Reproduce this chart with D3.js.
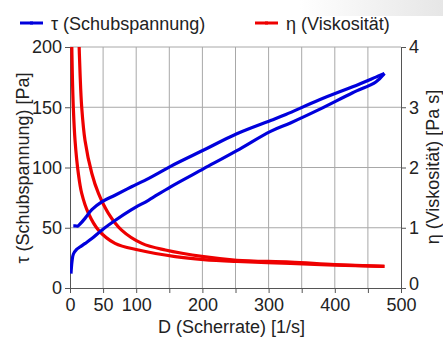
<!DOCTYPE html>
<html>
<head>
<meta charset="utf-8">
<script src="https://cdn.jsdelivr.net/npm/d3@7"></script>
<style>
  body { margin: 0; background: #fff; }
  svg { display: block; font-family: "Liberation Sans", Arial, sans-serif; }
  .axis path, .axis line { stroke: #555; }
  .axis text { font-size: 18px; fill: #222; }
  .grid line { stroke: #a8a8a8; }
</style>
</head>
<body>
<div id="chart"></div>
<script>
// Schubspannung, Hochlauf (unterer Ast)
const shearUp = [1.5, 3, 5, 10, 15, 23, 33, 48, 68, 93, 119, 152, 202, 252, 303, 333, 376, 427, 462, 475];
const tauUp   = [12, 22, 28, 32, 34, 37, 41, 48, 56, 65, 73, 84, 99, 114, 130, 137, 148, 162, 171, 178];

// Schubspannung, Rücklauf (oberer Ast)
const shearDown = [475, 462, 427, 376, 326, 303, 252, 202, 152, 119, 93, 68, 48, 33, 23, 15, 12, 8, 5];
const tauDown   = [178, 175, 167, 156, 144, 139, 128, 114.5, 101, 91, 84, 77, 71.5, 65, 58, 53, 51.5, 51.5, 51.5];

// Viskosität, Hochlauf
const etaShearUp = [2.3, 3.5, 5, 7.6, 12.6, 17.7, 27.8, 43, 68, 103.5, 159, 202, 252, 333, 400, 475];
const etaUp      = [4.3, 3.56, 3.0, 2.45, 1.9, 1.57, 1.24, 0.96, 0.74, 0.63, 0.52, 0.47, 0.44, 0.41, 0.38, 0.36];

// Viskosität, Rücklauf
const etaShearDown = [475, 400, 333, 252, 202, 144, 108.6, 78, 58, 43, 33, 22.7, 17.7, 15.2, 13];
const etaDown      = [0.36, 0.39, 0.43, 0.46, 0.52, 0.63, 0.74, 0.96, 1.24, 1.57, 1.9, 2.45, 3.0, 3.56, 4.3];

const xTicks = [0, 50, 100, 200, 300, 400, 500];
const xGrid = [50, 100, 150, 200, 250, 300, 350, 400, 450];
const tauTicks = [0, 50, 100, 150, 200];
const etaTicks = [0, 1, 2, 3, 4];

const W = 443, H = 340;
const margin = {top: 47, right: 42, bottom: 52, left: 70};
const width = W - margin.left - margin.right,
      height = H - margin.top - margin.bottom;

const blue = '#0000dc', red = '#ee0000';

const svg = d3.select('#chart').append('svg')
    .attr('width', W)
    .attr('height', H);

// leichter Schatten oben rechts
const grad = svg.append('defs').append('linearGradient')
    .attr('id', 'fade').attr('x1', 0).attr('x2', 1);
grad.append('stop').attr('offset', 0).attr('stop-color', '#fff');
grad.append('stop').attr('offset', 1).attr('stop-color', '#e6e6e6');
svg.append('rect').attr('x', 300).attr('y', 0).attr('width', 143).attr('height', 16)
    .attr('fill', 'url(#fade)');

svg.select('defs').append('clipPath').attr('id', 'clip')
  .append('rect').attr('width', width).attr('height', height);

const g = svg.append('g')
    .attr('transform', `translate(${margin.left},${margin.top})`);

const x = d3.scaleLinear().domain([0, 500]).range([0, width]);
const yTau = d3.scaleLinear().domain([0, 200]).range([height, 0]);
const yEta = d3.scaleLinear().domain([0, 4]).range([height, 0]);

// Gitter
g.append('g').attr('class', 'grid')
  .selectAll('line').data(xGrid).enter().append('line')
    .attr('x1', d => x(d)).attr('x2', d => x(d))
    .attr('y1', 0).attr('y2', height);
g.append('g').attr('class', 'grid')
  .selectAll('line').data([50, 100, 150, 200]).enter().append('line')
    .attr('x1', 0).attr('x2', width)
    .attr('y1', d => yTau(d)).attr('y2', d => yTau(d));

// Achsen
g.append('g').attr('class', 'axis')
    .attr('transform', `translate(0,${height})`)
    .call(d3.axisBottom(x).tickValues(xGrid.concat([0, 500])).tickSize(5).tickPadding(5)
        .tickFormat(d => xTicks.includes(d) ? d : ''));

g.append('g').attr('class', 'axis')
    .call(d3.axisLeft(yTau).tickValues(tauTicks).tickSize(5).tickPadding(3));

const etaAxis = g.append('g').attr('class', 'axis')
    .attr('transform', `translate(${width},0)`)
    .call(d3.axisRight(yEta).tickValues(etaTicks).tickSize(5).tickPadding(3)
        .tickFormat(d3.format('d')));
// die Null rechts etwas hoch, damit sie nicht auf der 500 sitzt
etaAxis.selectAll('.tick text').filter(d => d === 0).attr('y', -4);

// Kurven
const line = d3.line()
    .x(d => x(d[0]))
    .y(d => d[1])
    .curve(d3.curveCatmullRom);

const plot = g.append('g').attr('clip-path', 'url(#clip)');

const series = [
  {xs: etaShearUp, ys: etaUp, y: yEta, color: red},
  {xs: etaShearDown, ys: etaDown, y: yEta, color: red},
  {xs: shearUp, ys: tauUp, y: yTau, color: blue},
  {xs: shearDown, ys: tauDown, y: yTau, color: blue}
];

series.forEach(s => {
  const pts = s.xs.map((v, i) => [v, s.y(s.ys[i])]);
  plot.append('path')
      .attr('d', line(pts))
      .attr('fill', 'none')
      .attr('stroke', s.color)
      .attr('stroke-width', 3.2)
      .attr('stroke-linejoin', 'round');
});

// Achsentitel
svg.append('text')
    .attr('x', margin.left + width / 2 - 4)
    .attr('y', 333)
    .attr('text-anchor', 'middle')
    .style('font-size', '18px').attr('fill', '#222')
    .text('D (Scherrate) [1/s]');

svg.append('text')
    .attr('transform', `translate(29,168) rotate(-90)`)
    .attr('text-anchor', 'middle')
    .style('font-size', '18px').attr('fill', '#222')
    .text('τ (Schubspannung) [Pa]');

svg.append('text')
    .attr('transform', `translate(439,167) rotate(-90)`)
    .attr('text-anchor', 'middle')
    .style('font-size', '18px').attr('fill', '#222')
    .text('η (Viskosität) [Pa s]');

// Legende
const legendItems = [
  {label: 'τ (Schubspannung)', color: blue, x: 20},
  {label: 'η (Viskosität)', color: red, x: 255}
];
legendItems.forEach(l => {
  svg.append('line')
      .attr('x1', l.x).attr('x2', l.x + 23)
      .attr('y1', 23).attr('y2', 23)
      .attr('stroke', l.color).attr('stroke-width', 3);
  svg.append('rect')
      .attr('x', l.x + 10).attr('y', 21.5).attr('width', 3).attr('height', 3)
      .attr('fill', l.color);
  svg.append('text')
      .attr('x', l.x + 31).attr('y', 30)
      .style('font-size', '18px').attr('fill', '#222')
      .text(l.label);
});
</script>
</body>
</html>
